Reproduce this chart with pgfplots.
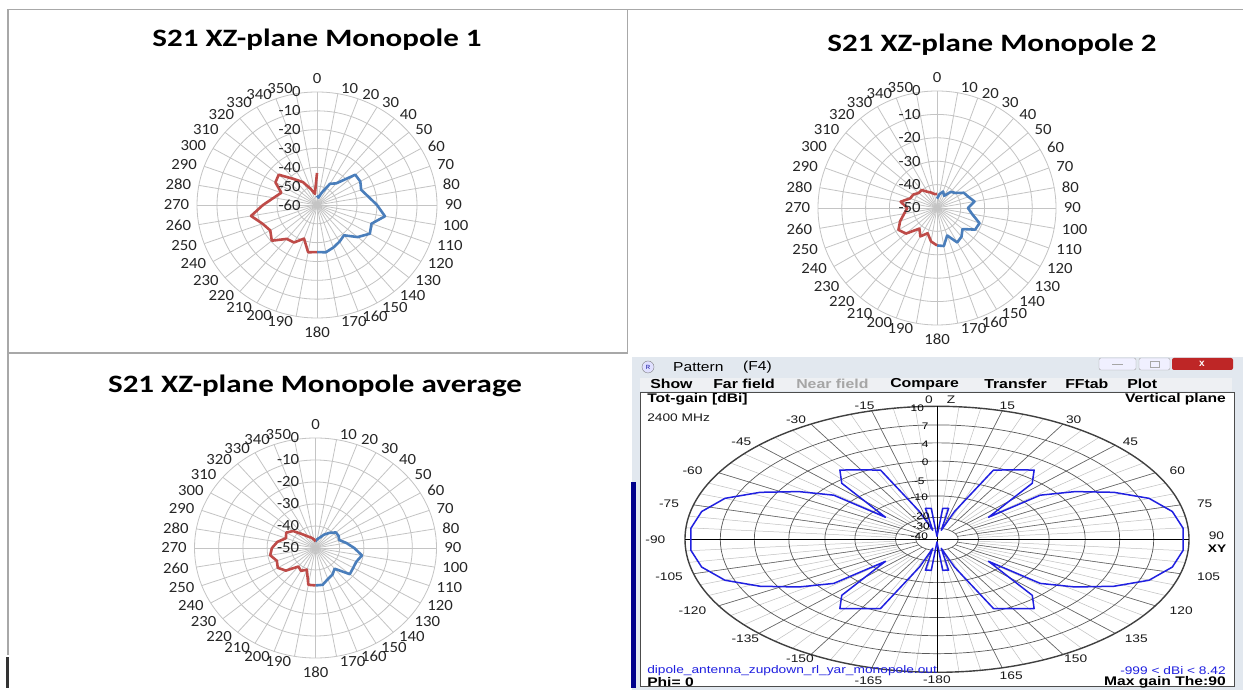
\documentclass[border=0pt]{standalone}
\usepackage{fontspec}
\setmainfont{Carlito}
\newfontfamily\arialf{Liberation Sans}
\usepackage{pgfplots}
\pgfplotsset{compat=1.18}
\usepackage{pgfplotstable}

\definecolor{xlblue}{HTML}{4A7EBB}
\definecolor{xlred}{HTML}{BE4B48}
\definecolor{gridc}{HTML}{C4C4C4}
\definecolor{framec}{HTML}{A8A8A8}
\definecolor{mmblue}{HTML}{2020E0}
\definecolor{winbg}{HTML}{E2E8EF}
\definecolor{menubg}{HTML}{EEF0F3}

% ---------- Panel 1 (range -60..0) ----------
\pgfplotstableread{
a v
0 -55
10 -56
20 -53
30 -47
40 -45
50 -35
60 -35
70 -36.5
80 -34
90 -30
100 -25.5
110 -31
120 -29.5
130 -33.5
140 -39
150 -37.5
160 -36
170 -34.5
180 -35
}\pOneBlue
\pgfplotstableread{
a v
180 -35
190 -34.5
200 -41
210 -37
220 -36.5
230 -30.5
240 -33
250 -31
260 -26.5
270 -33
280 -38
290 -41
300 -36
310 -35
320 -42
330 -46
340 -51
350 -54
360 -43
}\pOneRed
% ---------- Panel 2 (range -50..0) ----------
\pgfplotstableread{
a v
0 -46
10 -44
20 -42.5
30 -44
40 -41
50 -40
60 -37
70 -36
80 -34
90 -37
100 -35
110 -31
120 -31.5
130 -36
140 -34
150 -33
160 -37.5
170 -33.5
180 -34
}\pTwoBlue
\pgfplotstableread{
a v
180 -34
190 -35.5
200 -38.5
210 -36
220 -38.5
230 -33
240 -31.3
250 -33.5
260 -36
270 -37.5
280 -34.5
290 -38
300 -38.5
310 -40
320 -40
330 -42
340 -43
350 -44
360 -44
}\pTwoRed
% ---------- Panel 3 (range -50..0) ----------
\pgfplotstableread{
a v
0 -47
10 -46
20 -45
30 -43
40 -41
50 -39
60 -39
70 -39.5
80 -37
90 -34
100 -30.5
110 -32
120 -32
130 -31.5
140 -37.7
150 -36
160 -35
170 -33
180 -33
}\pThreeBlue
\pgfplotstableread{
a v
180 -33
190 -33
200 -39.5
210 -38
220 -39
230 -34
240 -32
250 -33
260 -31
270 -32
280 -34
290 -37
300 -36
310 -38
320 -42
330 -44
340 -45
350 -46
360 -47
}\pThreeRed
% ---------- Panel 4: MMANA pattern (angle, normalised radius on plot scale) ----------
\pgfplotstableread{
t r
0 0.02
4 0.06
5.6 0.234
11.2 0.237
14 0.07
18.4 0.22
23.3 0.567
30 0.602
36.5 0.648
41.9 0.566
51 0.263
51 0.527
56.8 0.655
63.3 0.786
69.9 0.896
77.4 0.957
85.1 0.98
90 0.977
94.9 0.98
102.6 0.957
110.1 0.896
116.7 0.786
123.2 0.655
129 0.527
129 0.263
138.1 0.566
143.5 0.648
150 0.602
156.7 0.567
161.6 0.22
166 0.07
168.8 0.237
174.4 0.234
176 0.06
180 0.02
184 0.06
185.6 0.234
191.2 0.237
194 0.07
198.4 0.22
203.3 0.567
210 0.602
216.5 0.648
221.9 0.566
231 0.263
231 0.527
236.8 0.655
243.3 0.786
249.9 0.896
257.4 0.957
265.1 0.98
270 0.977
274.9 0.98
282.6 0.957
290.1 0.896
296.7 0.786
303.2 0.655
309 0.527
309 0.263
318.1 0.566
323.5 0.648
330 0.602
336.7 0.567
341.6 0.22
346 0.07
348.8 0.237
354.4 0.234
356 0.06
360 0.02
}\mmdata

\pgfplotsset{
  radar/.style={hide axis, clip=false, scale only axis, anchor=center,
    xmin=-#1, xmax=#1, ymin=-#1, ymax=#1},
  xlline/.style={line width=2.6pt, line join=round, mark=none},
}
\tikzset{
  xl/.style={font=\fontsize{15.5}{16}\selectfont, xscale=1.08, text=black!85, inner sep=1pt},
  xlt/.style={font=\bfseries\fontsize{25}{28}\selectfont, xscale=1.24},
  mmn/.style={font=\arialf\fontsize{11}{12}\selectfont, xscale=1.25, inner sep=0pt, text=black!90},
  mmr/.style={font=\arialf\fontsize{9.5}{10}\selectfont, xscale=1.25, inner sep=0pt},
  mmb/.style={font=\arialf\bfseries\fontsize{12.5}{13}\selectfont, xscale=1.25, inner sep=0pt},
  mmu/.style={font=\arialf\bfseries\fontsize{13}{13}\selectfont, xscale=1.22, inner sep=0pt, anchor=west},
}
% angle labels of an Excel radar chart of outer radius #1 (axis units)
\newcommand{\xlangles}[1]{%
  \node[xl, anchor=south, yshift=7pt] at (axis cs:0,#1) {0};
  \node[xl, anchor=north, yshift=-8pt] at (axis cs:0,-#1) {180};
  \pgfplotsinvokeforeach{10,20,...,170}{\node[xl, anchor=west, xshift={1+5*sin(##1)}, yshift={5*cos(##1)}] at (axis cs:{#1*sin(##1)},{#1*cos(##1)}) {##1};}
  \pgfplotsinvokeforeach{190,200,...,350}{\node[xl, anchor=east, xshift={-1+5*sin(##1)}, yshift={5*cos(##1)}] at (axis cs:{#1*sin(##1)},{#1*cos(##1)}) {##1};}
}

\begin{document}
\begin{tikzpicture}
\useasboundingbox (0pt,0pt) rectangle (1243pt,698pt);
\fill[white] (0pt,0pt) rectangle (1243pt,698pt);
% frame lines
\draw[framec, line width=1.8pt] (8pt,688.5pt) -- (1243pt,688.5pt);
\draw[framec, line width=1.8pt] (8pt,688.5pt) -- (8pt,43pt);
\draw[framec, line width=1.8pt] (627.5pt,688.5pt) -- (627.5pt,345pt);
\draw[framec, line width=1.8pt] (8pt,345pt) -- (627.5pt,345pt);
\fill[black!80] (6pt,10pt) rectangle (9pt,41pt);

% window of panel 4
\fill[winbg] (632pt,8pt) rectangle (1243pt,341pt);
\fill[blue!55!black] (631pt,10pt) rectangle (636pt,216pt);
\fill[menubg] (640pt,307pt) rectangle (1232pt,320.3pt);
\draw[black!70, fill=white, line width=0.8pt] (640pt,11.3pt) rectangle (1234pt,305.7pt);
\draw[gray!70, fill=blue!6, rounded corners=2pt] (1099pt,328pt) rectangle (1136pt,340pt);
\draw[gray!70, line width=1pt] (1112pt,333pt) -- (1123pt,333pt);
\draw[gray!70, fill=blue!6, rounded corners=2pt] (1139pt,328pt) rectangle (1170pt,340pt);
\draw[gray!70] (1150pt,331pt) rectangle (1159pt,337pt);
\fill[red!70!black!85, rounded corners=2pt] (1172pt,328pt) rectangle (1233pt,340pt);
\node[white, font=\arialf\bfseries\fontsize{10}{10}\selectfont] at (1202pt,334pt) {x};
\draw[gray, fill=blue!12] (648pt,331pt) circle (6pt);
\node[font=\arialf\fontsize{6}{6}\selectfont, text=blue!60!black] at (648pt,331pt) {R};
\node[anchor=west, font=\arialf\fontsize{13}{13}\selectfont, xscale=1.2] at (669pt,331pt) {Pattern};
\node[anchor=west, font=\arialf\fontsize{13}{13}\selectfont, xscale=1.2] at (739pt,331pt) {(F4)};

% ---------------- Panel 1 ----------------
\begin{axis}[radar=60, x=2pt, y=1.8833pt, at={(317pt,493pt)}]
\pgfplotsinvokeforeach{10,20,...,60}{\draw[gridc, line width=0.8pt] (axis cs:0,0) ellipse [x radius=#1, y radius=#1];}
\pgfplotsinvokeforeach{0,10,...,350}{\draw[gridc, line width=0.8pt] (axis cs:0,0) -- (axis cs:{60*sin(#1)},{60*cos(#1)});}
\xlangles{60}
\addplot[xlline, xlblue] table[x expr={90-\thisrow{a}}, y expr={\thisrow{v}+60}, data cs=polar] {\pOneBlue};
\addplot[xlline, xlred] table[x expr={90-\thisrow{a}}, y expr={\thisrow{v}+60}, data cs=polar] {\pOneRed};
\node[xl, anchor=east] at (axis cs:-7.5,60) {0};
\node[xl, anchor=east] at (axis cs:-7.5,50) {-10};
\node[xl, anchor=east] at (axis cs:-7.5,40) {-20};
\node[xl, anchor=east] at (axis cs:-7.5,30) {-30};
\node[xl, anchor=east] at (axis cs:-7.5,20) {-40};
\node[xl, anchor=east] at (axis cs:-7.5,10) {-50};
\node[xl, anchor=east] at (axis cs:-7.5,0) {-60};
\end{axis}
\node[xlt] at (317pt,658pt) {S21 XZ-plane Monopole 1};

% ---------------- Panel 2 ----------------
\begin{axis}[radar=50, x=2.38pt, y=2.34pt, at={(937pt,490pt)}]
\pgfplotsinvokeforeach{10,20,...,50}{\draw[gridc, line width=0.8pt] (axis cs:0,0) ellipse [x radius=#1, y radius=#1];}
\pgfplotsinvokeforeach{0,10,...,350}{\draw[gridc, line width=0.8pt] (axis cs:0,0) -- (axis cs:{50*sin(#1)},{50*cos(#1)});}
\xlangles{50}
\addplot[xlline, xlblue] table[x expr={90-\thisrow{a}}, y expr={\thisrow{v}+50}, data cs=polar] {\pTwoBlue};
\addplot[xlline, xlred] table[x expr={90-\thisrow{a}}, y expr={\thisrow{v}+50}, data cs=polar] {\pTwoRed};
\node[xl, anchor=east] at (axis cs:-6.3,50) {0};
\node[xl, anchor=east] at (axis cs:-6.3,40) {-10};
\node[xl, anchor=east] at (axis cs:-6.3,30) {-20};
\node[xl, anchor=east] at (axis cs:-6.3,20) {-30};
\node[xl, anchor=east] at (axis cs:-6.3,10) {-40};
\node[xl, anchor=east] at (axis cs:-6.3,0) {-50};
\end{axis}
\node[xlt] at (992pt,653pt) {S21 XZ-plane Monopole 2};

% ---------------- Panel 3 ----------------
\begin{axis}[radar=50, x=2.42pt, y=2.2pt, at={(315.5pt,150pt)}]
\pgfplotsinvokeforeach{10,20,...,50}{\draw[gridc, line width=0.8pt] (axis cs:0,0) ellipse [x radius=#1, y radius=#1];}
\pgfplotsinvokeforeach{0,10,...,350}{\draw[gridc, line width=0.8pt] (axis cs:0,0) -- (axis cs:{50*sin(#1)},{50*cos(#1)});}
\xlangles{50}
\addplot[xlline, xlblue] table[x expr={90-\thisrow{a}}, y expr={\thisrow{v}+50}, data cs=polar] {\pThreeBlue};
\addplot[xlline, xlred] table[x expr={90-\thisrow{a}}, y expr={\thisrow{v}+50}, data cs=polar] {\pThreeRed};
\node[xl, anchor=east] at (axis cs:-6.2,50) {0};
\node[xl, anchor=east] at (axis cs:-6.2,40) {-10};
\node[xl, anchor=east] at (axis cs:-6.2,30) {-20};
\node[xl, anchor=east] at (axis cs:-6.2,20) {-30};
\node[xl, anchor=east] at (axis cs:-6.2,10) {-40};
\node[xl, anchor=east] at (axis cs:-6.2,0) {-50};
\end{axis}
\node[xlt] at (315pt,312pt) {S21 XZ-plane Monopole average};

% ---------------- Panel 4 ----------------
\begin{axis}[hide axis, clip=false, scale only axis, anchor=center, at={(937pt,158.7pt)},
  x=252pt, y=133pt, xmin=-1, xmax=1, ymin=-1, ymax=1]
\pgfplotsinvokeforeach{0,5,...,355}{\draw[black!25, line width=0.5pt] (axis cs:{0.165*sin(#1)},{0.165*cos(#1)}) -- (axis cs:{sin(#1)},{cos(#1)});}
\pgfplotsinvokeforeach{0,15,...,345}{\draw[black!60, line width=0.6pt] (axis cs:{0.084*sin(#1)},{0.084*cos(#1)}) -- (axis cs:{sin(#1)},{cos(#1)});}
\pgfplotsinvokeforeach{0.86,0.725,0.588,0.445,0.326,0.165,0.084}{\draw[black!65, line width=0.7pt] (axis cs:0,0) ellipse [x radius=#1, y radius=#1];}
\draw[black!75, line width=1.4pt] (axis cs:0,0) ellipse [x radius=1, y radius=1];
\draw[black, line width=0.9pt] (axis cs:0,1) -- (axis cs:0,-1);
\draw[black, line width=0.9pt] (axis cs:-1,0) -- (axis cs:1,0);
\addplot[mmblue, line width=1.5pt, line join=round, mark=none] table[x expr={90-\thisrow{t}}, y=r, data cs=polar] {\mmdata};
\end{axis}

% panel 4 texts
\node[mmu] at (650pt,314pt) {Show};
\node[mmu] at (713pt,314pt) {Far field};
\node[mmu, text=black!35] at (796pt,314pt) {Near field};
\node[mmu] at (890pt,314pt) {Compare};
\node[mmu] at (984pt,314pt) {Transfer};
\node[mmu] at (1065pt,314pt) {FFtab};
\node[mmu] at (1127pt,314pt) {Plot};
\node[mmb, anchor=west] at (647pt,299pt) {Tot-gain [dBi]};
\node[mmb, anchor=east] at (1226pt,299pt) {Vertical plane};
\node[mmb, anchor=west] at (647pt,16pt) {Phi= 0};
\node[mmb, anchor=east] at (1226pt,16pt) {Max gain The:90};
\node[mmn, anchor=west] at (647pt,280pt) {2400 MHz};
\node[mmn, anchor=west, text=mmblue] at (647pt,27pt) {dipole\_antenna\_zupdown\_rl\_yar\_monopole.out};
\node[mmn, anchor=east, text=mmblue] at (1226pt,27pt) {-999 < dBi < 8.42};
\node[mmn] at (864.6pt,292.3pt) {-15};
\node[mmn] at (929pt,298pt) {0};
\node[mmn] at (951pt,298pt) {Z};
\node[mmn] at (1007.3pt,292.3pt) {15};
\node[mmn] at (796.1pt,278pt) {-30};
\node[mmn] at (1073.7pt,278pt) {30};
\node[mmn] at (741.4pt,256pt) {-45};
\node[mmn] at (1130.4pt,256pt) {45};
\node[mmn] at (692.5pt,227pt) {-60};
\node[mmn] at (1177.3pt,227pt) {60};
\node[mmn] at (669.1pt,194pt) {-75};
\node[mmn] at (1204.7pt,194pt) {75};
\node[mmn] at (655.4pt,158pt) {-90};
\node[mmn] at (1216.4pt,162pt) {90};
\node[mmb, font=\arialf\bfseries\fontsize{11}{11}\selectfont] at (1217pt,149pt) {XY};
\node[mmn] at (669.1pt,121.3pt) {-105};
\node[mmn] at (1208.6pt,121.3pt) {105};
\node[mmn] at (692.5pt,87pt) {-120};
\node[mmn] at (1181.2pt,87pt) {120};
\node[mmn] at (745.3pt,59pt) {-135};
\node[mmn] at (1136.3pt,59pt) {135};
\node[mmn] at (800pt,39pt) {-150};
\node[mmn] at (1075.7pt,39pt) {150};
\node[mmn] at (868.5pt,17pt) {-165};
\node[mmn] at (1011.2pt,22.3pt) {165};
\node[mmn] at (936.9pt,18pt) {-180};
\node[mmr] at (917.3pt,289.7pt) {10};
\node[mmr] at (925.2pt,271.3pt) {7};
\node[mmr] at (925.2pt,253.7pt) {4};
\node[mmr] at (925.2pt,235.7pt) {0};
\node[mmr] at (919.3pt,217pt) {-5};
\node[mmr] at (919.3pt,201pt) {-10};
\node[mmr] at (921pt,182pt) {-20};
\node[mmr] at (921.2pt,171.5pt) {-30};
\node[mmr] at (919.3pt,162pt) {-40};
\end{tikzpicture}
\end{document}
